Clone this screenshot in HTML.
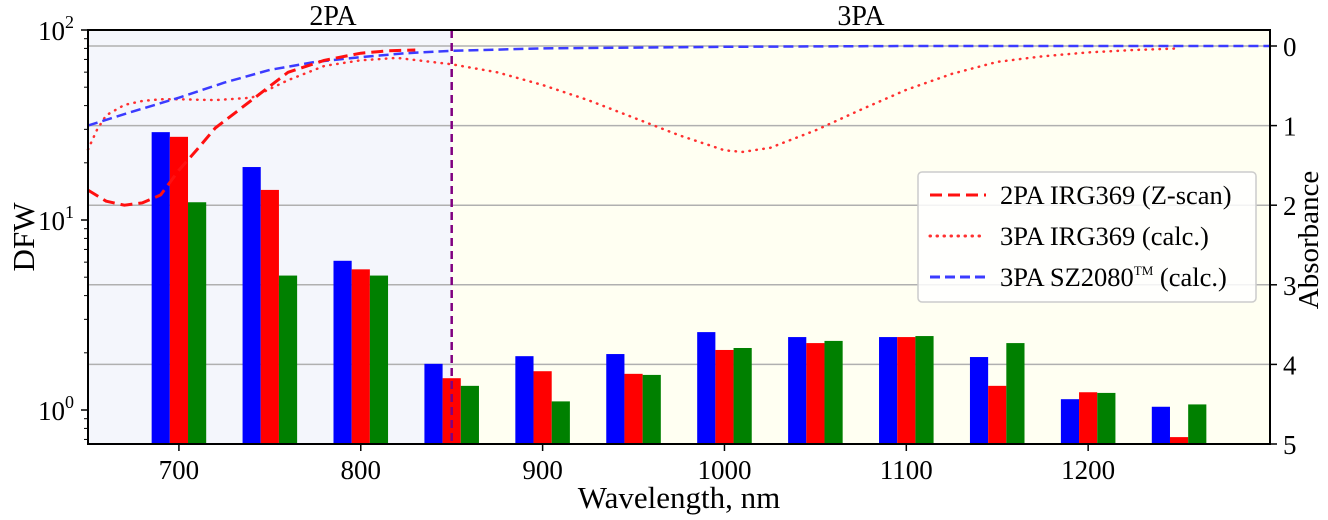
<!DOCTYPE html>
<html><head><meta charset="utf-8"><style>
html,body{margin:0;padding:0;background:#fff;}
svg{display:block;font-family:"Liberation Serif",serif;}
</style></head><body>
<svg id="chart" width="1328" height="520" viewBox="0 0 1328 520" xmlns="http://www.w3.org/2000/svg"></svg>
<script>
const categories = [700,750,800,850,900,950,1000,1050,1100,1150,1200,1250];
const seriesBlue = [29,19,6.1,1.75,1.92,1.97,2.57,2.42,2.42,1.90,1.14,1.04];
const seriesRed = [27.4,14.4,5.5,1.47,1.60,1.55,2.07,2.25,2.42,1.34,1.24,0.72];
const seriesGreen = [12.4,5.1,5.1,1.34,1.11,1.53,2.12,2.31,2.45,2.25,1.23,1.07];
const xTicks = [700,800,900,1000,1100,1200];
const absTicks = [0,1,2,3,4,5];
const zscanW = [650,660,670,680,690,700,710,720,740,760,780,800,815,830];
const zscanA = [1.81,1.95,2.0,1.97,1.87,1.56,1.3,1.03,0.68,0.33,0.18,0.09,0.06,0.05];
const irgW = [650,655,660,670,680,690,700,720,740,760,780,800,820,850,875,900,925,950,975,1000,1010,1025,1050,1075,1100,1125,1150,1175,1200,1225,1250];
const irgA = [1.3,1.05,0.87,0.74,0.69,0.67,0.67,0.68,0.65,0.43,0.25,0.18,0.15,0.23,0.33,0.49,0.68,0.9,1.12,1.31,1.33,1.28,1.06,0.8,0.55,0.35,0.2,0.13,0.08,0.05,0.03];
const szW = [650,675,700,725,750,775,800,825,850,900,950,1000,1100,1200,1300];
const szA = [1.0,0.82,0.65,0.46,0.3,0.2,0.14,0.09,0.06,0.03,0.02,0.01,0.0,0.0,0.0];

const L=88,R=1270,T=30,B=444;
const x = w => L + (w-650)*(R-L)/650;
const yLog = v => 410 - Math.log10(v)*190;
const yAbs = a => 46 + a*79.6;
const svg=document.getElementById('chart');
const NS='http://www.w3.org/2000/svg';
function mk(tag,attrs,parent){const e=document.createElementNS(NS,tag);for(const k in attrs)e.setAttribute(k,attrs[k]);(parent||svg).appendChild(e);return e;}

let e;
e=mk('rect',{x:L,y:T,width:x(850)-L,height:B-T,fill:'#f4f6fc'});


e=mk('rect',{x:x(850),y:T,width:R-x(850),height:B-T,fill:'#fffff2'});



absTicks.forEach(a=>{ if(a<5){
 e=mk('line',{x1:L,x2:R,y1:yAbs(a),y2:yAbs(a),stroke:'#b0b0b0','stroke-width':1.5});
 
 
}});

const bw = 10*(R-L)/650;
[[seriesBlue,'#0000ff',-15,'bar-blue'],[seriesRed,'#ff0000',-5,'bar-red'],[seriesGreen,'#008000',5,'bar-green']].forEach(([s,c,off,nm])=>{
 s.forEach((v,i)=>{
  const x0=x(categories[i]+off), y0=yLog(v);
  e=mk('rect',{x:x0,y:y0,width:bw,height:B-y0,fill:c});
  
  
 });
});

function path(ws,as,attrs,name){
 const d=ws.map((w,i)=>(i?'L':'M')+x(w).toFixed(1)+','+yAbs(as[i]).toFixed(1)).join(' ');
 e=mk('path',Object.assign({d:d,fill:'none','stroke-linejoin':'round'},attrs));
 
 
}
path(irgW,irgA,{stroke:'#ff3030','stroke-width':2.5,'stroke-dasharray':'0.5 6.5','stroke-linecap':'round'},'line-3pa-irg369');
path(szW,szA,{stroke:'#3b3bff','stroke-width':2.5,'stroke-dasharray':'10 5'},'line-3pa-sz2080');
path(zscanW,zscanA,{stroke:'#ff1010','stroke-width':3,'stroke-dasharray':'12 6'},'line-2pa-irg369-zscan');

e=mk('line',{x1:x(850),x2:x(850),y1:T,y2:B,stroke:'#800080','stroke-width':2.5,'stroke-dasharray':'8 5'});



e=mk('rect',{x:L,y:T,width:R-L,height:B-T,fill:'none',stroke:'#000','stroke-width':2});



xTicks.forEach(w=>{
 mk('line',{x1:x(w),x2:x(w),y1:B,y2:B+7,stroke:'#000','stroke-width':1.5});
 e=mk('text',{x:x(w),y:B+35,'font-size':27,'text-anchor':'middle'});
 e.textContent=w;
 
 
});
[0,1,2].forEach(p=>{
 const yy=yLog(Math.pow(10,p));
 mk('line',{x1:L-7,x2:L,y1:yy,y2:yy,stroke:'#000','stroke-width':1.5});
 e=mk('text',{x:L-14,y:yy+10,'font-size':27,'text-anchor':'end'});
 e.innerHTML='10<tspan dy="-12" font-size="18">'+p+'</tspan>';
 
 
});
for(let p=-1;p<2;p++)for(let m=2;m<10;m++){
 const v=m*Math.pow(10,p), yy=yLog(v);
 if(yy>=T&&yy<=B) mk('line',{x1:L-4,x2:L,y1:yy,y2:yy,stroke:'#000','stroke-width':1});
}
absTicks.forEach(a=>{
 mk('line',{x1:R,x2:R+7,y1:yAbs(a),y2:yAbs(a),stroke:'#000','stroke-width':1.5});
 e=mk('text',{x:R+13,y:yAbs(a)+10,'font-size':27});
 e.textContent=a;
 
 
});

function txt(s,attrs,name){e=mk('text',attrs);e.textContent=s;}
txt('Wavelength, nm',{x:679,y:508,'font-size':31,'text-anchor':'middle'},'x-axis-title');
txt('DFW',{x:0,y:0,'font-size':31,'text-anchor':'middle',transform:'translate(34,237) rotate(-90)'},'y-axis-title');
txt('Absorbance',{x:0,y:0,'font-size':29,'text-anchor':'middle',transform:'translate(1318,240) rotate(-90)'},'right-axis-title');
txt('2PA',{x:333,y:25,'font-size':28,'text-anchor':'middle'},'2pa-label');
txt('3PA',{x:861,y:25,'font-size':28,'text-anchor':'middle'},'3pa-label');

const g=mk('g',{});


mk('rect',{x:918,y:172,width:338,height:130,rx:4,fill:'#fff','fill-opacity':0.85,stroke:'#ccc','stroke-width':1.5},g);
const leg=[['2PA IRG369 (Z-scan)','#ff1010','12 6',195],['3PA IRG369 (calc.)','#ff3030','0.5 6.5',236],['3PA SZ2080',"#3b3bff",'10 5',277]];
leg.forEach(([s,c,da,yy],i)=>{
 e=mk('line',{x1:930,x2:986,y1:yy,y2:yy,stroke:c,'stroke-width':3,'stroke-dasharray':da,'stroke-linecap':i==1?'round':'butt'},g);
 
 
 e=mk('text',{x:1000,y:yy+9,'font-size':26.5},g);
 e.innerHTML = i==2 ? s+'<tspan dy="-11" font-size="13">TM</tspan><tspan dy="11"> (calc.)</tspan>' : s;
 
 
});
</script>
</body></html>
